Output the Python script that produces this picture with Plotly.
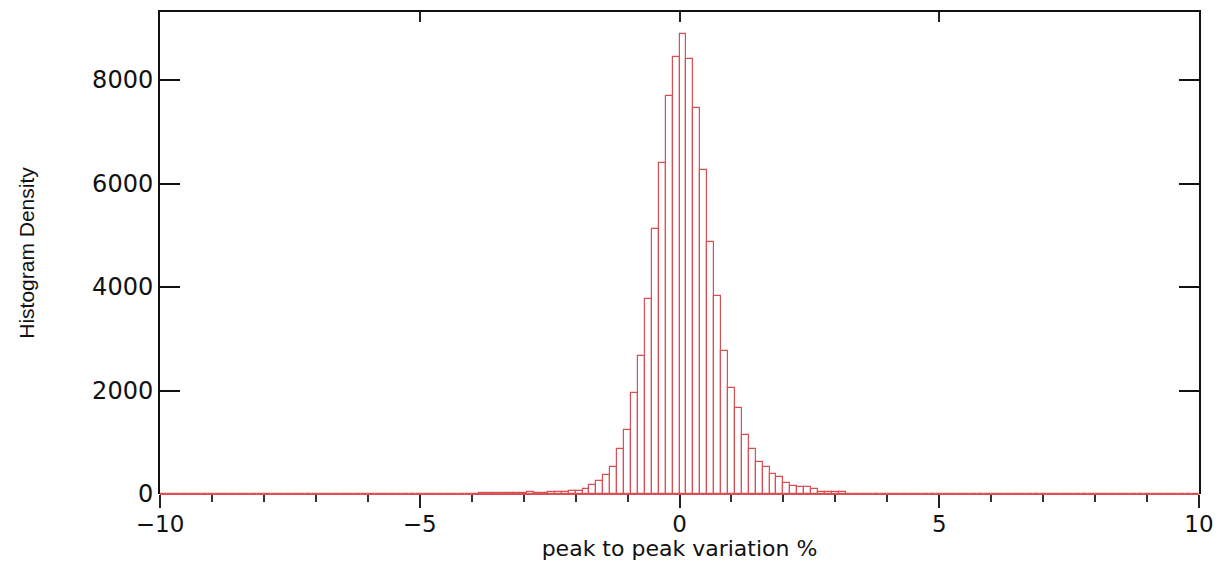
import plotly.graph_objects as go

# Histogram of peak to peak variation (%), 150 bins from -10 to 10
bin_start = -10.0
bin_end = 10.0
n_bins = 150

counts = [
    # -10.00 .. -5.33 (k=-75..-41)
    0, 0, 0, 0, 0, 0, 0, 0, 0, 0,
    0, 0, 0, 0, 0, 0, 0, 0, 0, 0,
    0, 0, 0, 0, 0, 0, 0, 0, 0, 0,
    0, 0, 0, 0, 0,
    # k=-40..-31
    0, 8, 8, 0, 0, 0, 0, 0, 0, 0,
    # k=-30..-16
    8, 10, 10, 10, 12, 18, 18, 20, 45, 22, 22, 30, 40, 40, 60,
    # k=-15..-1
    62, 97, 168, 245, 373, 522, 864, 1230, 1958, 2667, 3773, 5115, 6402, 7691, 8438,
    # k=0..14
    8883, 8400, 7453, 6267, 4875, 3832, 2763, 2054, 1668, 1146, 864, 612, 522, 393, 322,
    # k=15..31
    219, 150, 138, 135, 90, 40, 40, 30, 30, 8, 6, 5, 5, 4, 4, 3, 3,
    # k=32..51
    0, 3, 3, 3, 3, 3, 3, 3, 3, 3, 3, 3, 3, 3, 3, 3, 3, 3, 3, 3,
    # k=52..74
    3, 3, 3, 3, 3, 3, 3, 3, 3, 3, 3, 3, 3, 3, 3, 3, 3, 3, 0, 3, 3, 0, 0,
]

bin_width = (bin_end - bin_start) / n_bins
centers = [bin_start + (i + 0.5) * bin_width for i in range(n_bins)]

x_ticks = [-10, -5, 0, 5, 10]
x_tick_labels = ["\u221210", "\u22125", "0", "5", "10"]
y_ticks = [0, 2000, 4000, 6000, 8000]
y_max = 9314

RED = "rgb(216,80,84)"
FONT = "DejaVu Sans"

fig = go.Figure()
fig.add_trace(go.Bar(
    x=centers, y=counts, width=[bin_width] * n_bins,
    marker=dict(color="rgba(255,255,255,0)", line=dict(color=RED, width=1.2)),
    showlegend=False, hoverinfo="x+y",
))
# invisible trace so the top axis is rendered
fig.add_trace(go.Scatter(x=[0], y=[0], xaxis="x2", mode="markers",
                         marker=dict(opacity=0), showlegend=False, hoverinfo="skip"))

fig.update_layout(
    width=1223, height=561,
    margin=dict(l=160, r=24, t=12, b=67),
    paper_bgcolor="white", plot_bgcolor="white",
    bargap=0,
    font=dict(family=FONT, size=24, color="#111"),
    xaxis=dict(
        range=[bin_start, bin_end], tickvals=x_ticks, ticktext=x_tick_labels,
        ticks="outside", ticklen=13, tickwidth=2, tickcolor="#222",
        minor=dict(dtick=1, ticks="outside", ticklen=7, tickwidth=2, tickcolor="#333"),
        showline=False, showgrid=False, zeroline=False, automargin=False,
        tickfont=dict(size=23), ticklabelstandoff=-4,
        title=dict(text="peak to peak variation %", font=dict(size=22), standoff=0),
    ),
    xaxis2=dict(
        range=[bin_start, bin_end], overlaying="x", side="top",
        tickvals=x_ticks, ticks="inside", ticklen=10, tickwidth=2, tickcolor="#222",
        showticklabels=False, showline=True, linecolor="#111", linewidth=1.5,
        showgrid=False, zeroline=False, automargin=False,
    ),
    yaxis=dict(
        range=[0, y_max], tickvals=y_ticks,
        ticks="inside", ticklen=20, tickwidth=1.5, tickcolor="#111",
        showline=True, linecolor="#111", linewidth=2, mirror="ticks",
        showgrid=False, zeroline=True, zerolinecolor=RED, zerolinewidth=1.2,
        automargin=False,
        tickfont=dict(size=24),
        title=dict(text="Histogram Density",
                   font=dict(family="Liberation Sans Narrow, Liberation Sans", size=21),
                   standoff=52),
    ),
)

fig.write_html("out.html")
